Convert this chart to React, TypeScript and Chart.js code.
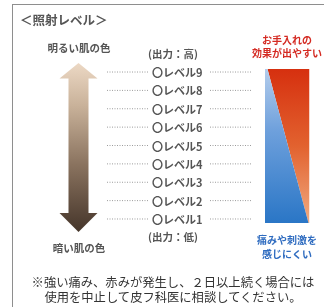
import React, { useEffect, useRef } from 'react';
import { Chart, registerables } from 'chart.js';

Chart.register(...registerables);

const W = 324;
const H = 307;

// ---- data ----
const levels = [9, 8, 7, 6, 5, 4, 3, 2, 1];
const levelLabels = ['〇レベル9', '〇レベル8', '〇レベル7', '〇レベル6', '〇レベル5', '〇レベル4', '〇レベル3', '〇レベル2', '〇レベル1'];
const outputLevels = [10, 0];
const outputLabels = ['(出力：高)', '(出力：低)'];
const skinLabels = ['明るい肌の色', '暗い肌の色'];
const effectText = ['お手入れの', '効果が出やすい'];
const painText = ['痛みや刺激を', '感じにくい'];
const noteLines = ['※強い痛み、赤みが発生し、２日以上続く場合には', '使用を中止して皮フ科医に相談してください。'];
const title = '＜照射レベル＞';

// panel (effect vs. pain) range, in level units
const panelTop = 9.16;
const panelBottom = 0.78;
// arrow range, in level units
const arrowTop = 9.49;
const arrowHeadTop = 8.65;
const arrowHeadBottom = 1.33;
const arrowBottom = 0.29;

// ---- scale geometry ----
const Y_MIN = -3.79;
const Y_MAX = 12.92;
const yPx = (v: number) => ((Y_MAX - v) / (Y_MAX - Y_MIN)) * H;

const FONT = '"Noto Sans CJK JP", "Noto Sans", sans-serif';

const arrowPlugin = {
  id: 'arrowPlugin',
  beforeDatasetsDraw(chart: any) {
    const { ctx, scales } = chart;
    const x = scales.x;
    const y = scales.y;
    const cx = x.getPixelForValue(78.5);
    const hh = x.getPixelForValue(78.5 + 19) - cx;
    const sh = x.getPixelForValue(78.5 + 10) - cx;
    const yt = y.getPixelForValue(arrowTop);
    const yht = y.getPixelForValue(arrowHeadTop);
    const yhb = y.getPixelForValue(arrowHeadBottom);
    const yb = y.getPixelForValue(arrowBottom);
    const g = ctx.createLinearGradient(0, yt, 0, yb);
    g.addColorStop(0, '#ecd8c4');
    g.addColorStop(0.25, '#c9b29a');
    g.addColorStop(0.6, '#8a735f');
    g.addColorStop(1, '#45352a');
    ctx.save();
    ctx.beginPath();
    ctx.moveTo(cx, yt);
    ctx.lineTo(cx + hh, yht);
    ctx.lineTo(cx + sh, yht);
    ctx.lineTo(cx + sh, yhb);
    ctx.lineTo(cx + hh, yhb);
    ctx.lineTo(cx, yb);
    ctx.lineTo(cx - hh, yhb);
    ctx.lineTo(cx - sh, yhb);
    ctx.lineTo(cx - sh, yht);
    ctx.lineTo(cx - hh, yht);
    ctx.closePath();
    ctx.fillStyle = g;
    ctx.fill();
    ctx.restore();
  },
};

function leader(x0: number, x1: number) {
  const pts: any[] = [];
  levels.forEach((l) => {
    pts.push({ x: x0, y: l });
    pts.push({ x: x1, y: l });
    pts.push({ x: x1 + 0.1, y: null });
  });
  return pts;
}

const panelLine = [
  { x: 265, y: panelTop },
  { x: 267.5, y: panelTop },
  { x: 308.5, y: panelBottom },
  { x: 309.5, y: panelBottom },
];

function grad(chart: any, stops: [number, string][]) {
  const y = chart.scales?.y;
  if (!chart.chartArea || !y) return 'rgba(0,0,0,0)';
  const g = chart.ctx.createLinearGradient(0, y.getPixelForValue(panelTop), 0, y.getPixelForValue(panelBottom));
  stops.forEach(([o, c]) => g.addColorStop(o, c));
  return g;
}

export default function App() {
  const ref = useRef<HTMLCanvasElement>(null);
  useEffect(() => {
    if (!ref.current) return;
    const chart = new Chart(ref.current, {
      type: 'scatter',
      data: {
        datasets: [
          {
            data: leader(107, 148) as any,
            showLine: true,
            borderColor: '#9c9c9c',
            borderWidth: 1,
            borderDash: [1, 1.5],
            pointRadius: 0,
            spanGaps: false,
          },
          {
            data: leader(210, 252) as any,
            showLine: true,
            borderColor: '#9c9c9c',
            borderWidth: 1,
            borderDash: [1, 1.5],
            pointRadius: 0,
            spanGaps: false,
          },
          {
            data: panelLine,
            showLine: true,
            borderColor: 'rgba(0,0,0,0)',
            borderWidth: 0,
            pointRadius: 0,
            fill: { value: panelBottom },
            backgroundColor: (c: any) =>
              grad(c.chart, [
                [0, '#b4cdec'],
                [0.4, '#6ea0dc'],
                [1, '#2a76c6'],
              ]),
          },
          {
            data: panelLine,
            showLine: true,
            borderColor: 'rgba(0,0,0,0)',
            borderWidth: 0,
            pointRadius: 0,
            fill: { value: panelTop },
            backgroundColor: (c: any) =>
              grad(c.chart, [
                [0, '#d6300f'],
                [0.5, '#e2622f'],
                [1, '#f0aa80'],
              ]),
          },
        ],
      },
      options: {
        animation: false,
        responsive: false,
        devicePixelRatio: 1,
        layout: { padding: 0 },
        plugins: { legend: { display: false }, tooltip: { enabled: false } },
        scales: {
          x: { type: 'linear', min: 0, max: W, display: false },
          y: { type: 'linear', min: Y_MIN, max: Y_MAX, display: false },
        },
      },
      plugins: [arrowPlugin],
    });
    return () => chart.destroy();
  }, []);

  const txt = (style: React.CSSProperties): React.CSSProperties => ({
    position: 'absolute',
    whiteSpace: 'nowrap',
    fontFamily: FONT,
    lineHeight: 1,
    ...style,
  });

  return (
    <div style={{ position: 'fixed', left: 0, top: 0, width: W, height: H, overflow: 'hidden', background: '#fff' }}>
      <div
        style={{
          position: 'absolute',
          left: 12,
          top: 4,
          width: 400,
          height: 400,
          border: '1.5px solid #8e8e8e',
          boxSizing: 'border-box',
        }}
      />
      <canvas ref={ref} width={W} height={H} style={{ position: 'absolute', left: 0, top: 0, width: W, height: H }} />
      <div style={txt({ left: 20, top: 20, transform: 'translateY(-50%)', fontSize: 12.5, color: '#555', fontWeight: 700 })}>{title}</div>
      <div style={txt({ left: 79, top: 48, transform: 'translate(-50%,-50%)', fontSize: 10.5, color: '#555', fontWeight: 700 })}>
        {skinLabels[0]}
      </div>
      <div style={txt({ left: 79, top: 248, transform: 'translate(-50%,-50%)', fontSize: 10.5, color: '#555', fontWeight: 700 })}>
        {skinLabels[1]}
      </div>
      {outputLabels.map((t, i) => (
        <div key={t} style={txt({ left: 148, top: yPx(outputLevels[i]), transform: 'translateY(-50%)', fontSize: 10.5, color: '#555', fontWeight: 700 })}>
          {t}
        </div>
      ))}
      {levelLabels.map((t, i) => (
        <div key={t} style={txt({ left: 152, top: yPx(levels[i]), transform: 'translateY(-50%)', fontSize: 11, color: '#555', fontWeight: 700 })}>
          {t}
        </div>
      ))}
      {effectText.map((t, i) => (
        <div key={t} style={txt({ left: 287, top: 40 + i * 13, transform: 'translate(-50%,-50%)', fontSize: 10, color: '#d42a22', fontWeight: 700 })}>
          {t}
        </div>
      ))}
      {painText.map((t, i) => (
        <div key={t} style={txt({ left: 287, top: 240 + i * 13.5, transform: 'translate(-50%,-50%)', fontSize: 10, color: '#2f6cc0', fontWeight: 700 })}>
          {t}
        </div>
      ))}
      {noteLines.map((t, i) => (
        <div key={t} style={txt({ left: 173, top: 282 + i * 15, transform: 'translate(-50%,-50%)', fontSize: 12.3, color: '#333' })}>
          {t}
        </div>
      ))}
    </div>
  );
}
